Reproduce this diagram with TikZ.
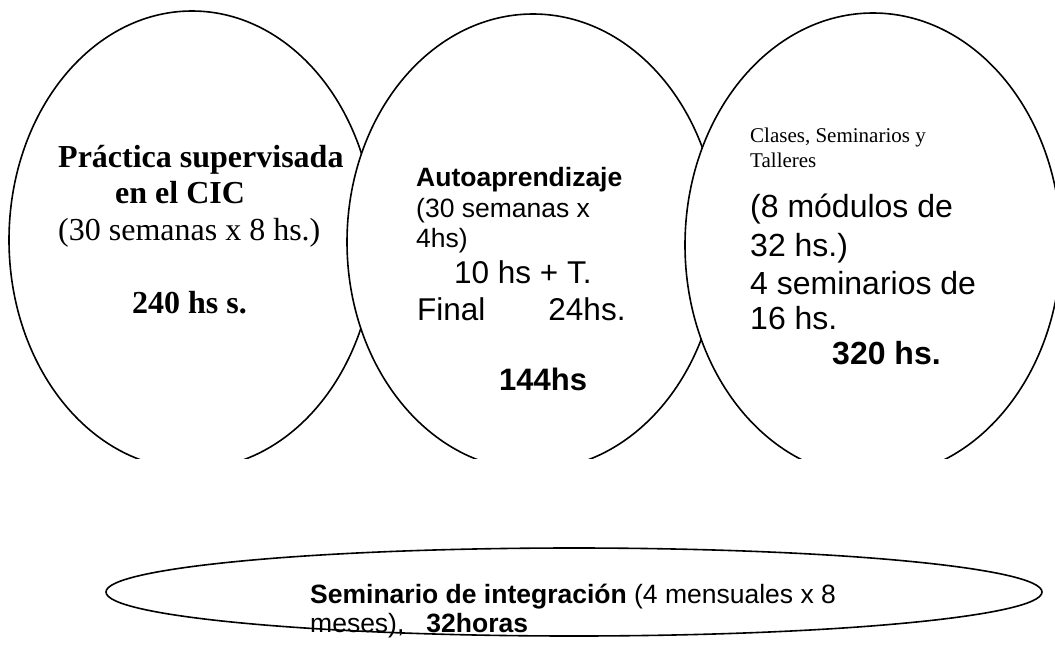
\documentclass[tikz,border=0pt]{standalone}
\usepackage{fontspec}
\setmainfont{Liberation Serif}
\setsansfont{Liberation Sans}
\usetikzlibrary{shapes.geometric}

\begin{document}
\begin{tikzpicture}[x=1pt,y=-1pt,
	bubble/.style={draw,fill=white,ellipse,line width=1.6pt,inner sep=0pt},
	txt/.style={anchor=base west,inner sep=0pt},
	tm/.style={txt,font=\fontsize{#1}{#1}\selectfont\rmfamily},
	tmb/.style={txt,font=\fontsize{#1}{#1}\selectfont\rmfamily\bfseries},
	hv/.style={txt,font=\fontsize{#1}{#1}\selectfont\sffamily},
	hvb/.style={txt,font=\fontsize{#1}{#1}\selectfont\sffamily\bfseries}]
	\useasboundingbox (0,0) rectangle (1055,672);
	% the three blocks, cut off at the bottom
	\begin{scope}
		\clip (0,0) rectangle (1055,458);
		\node[bubble,minimum width=366pt,minimum height=458pt] (prac) at (192,240) {};
		\node[bubble,minimum width=372pt,minimum height=456pt] (auto) at (533,242) {};
		\node[bubble,minimum width=376pt,minimum height=464pt] (clas) at (873,245) {};
	\end{scope}
	\node[bubble,minimum width=936pt,minimum height=88pt] (semi) at (574,592) {};
	%
	\node[tmb=32] (prac1) at (58,167) {Práctica supervisada};
	\node[tmb=32] (prac2) at (115,203) {en el CIC};
	\node[tm=32] (prac3) at (58,240) {(30 semanas x 8 hs.)};
	\node[tmb=32] (prac4) at (132,313) {240 hs s.};
	%
	\node[hvb=26.5] (auto1) at (416,186) {Autoaprendizaje};
	\node[hv=26.5] (auto2) at (416,217) {(30 semanas x};
	\node[hv=26.5] (auto3) at (416,247) {4hs)};
	\node[hv=31.5] (auto4) at (454,283) {10 hs + T.};
	\node[hv=31.5] (auto5) at (417,320) {Final\hspace{63pt}24hs.};
	\node[hvb=31] (auto6) at (499,390) {144hs};
	%
	\node[tm=21] (clas1) at (750,142) {Clases, Seminarios y};
	\node[tm=21] (clas2) at (750,167) {Talleres};
	\node[hv=32] (clas3) at (750,217) {(8 módulos de};
	\node[hv=32] (clas4) at (750,256) {32 hs.)};
	\node[hv=32] (clas5) at (750,294) {4 seminarios de};
	\node[hv=32] (clas6) at (750,329) {16 hs.};
	\node[hvb=32] (clas7) at (832,364) {320 hs.};
	%
	\node[hv=26.5] (semi1) at (310,603) {\textbf{Seminario de integración} (4 mensuales x 8};
	\node[hv=26.5] (semi2) at (310,632) {meses),\hspace{22pt}\textbf{32horas}};
\end{tikzpicture}
\end{document}
